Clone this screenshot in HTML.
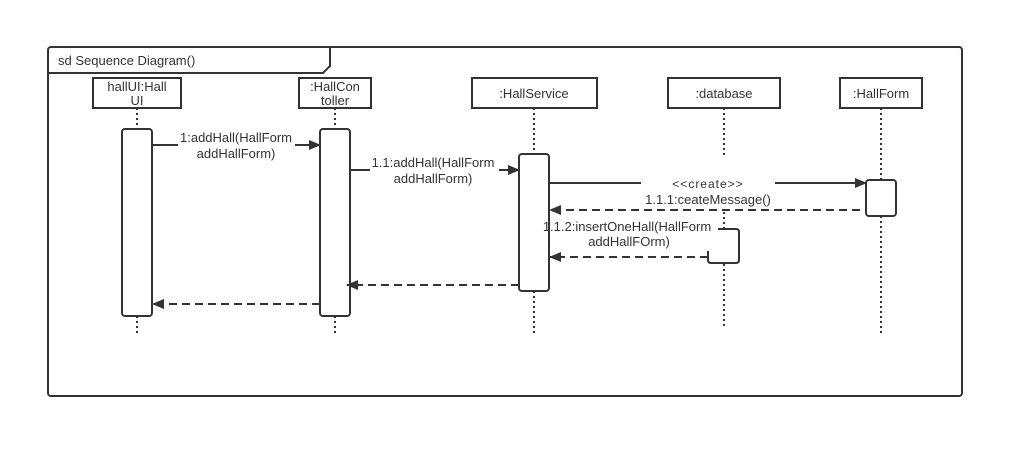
<!DOCTYPE html>
<html><head><meta charset="utf-8"><style>
html,body{margin:0;padding:0;background:#fff;}
svg{display:block;}
text{font-family:"Liberation Sans",sans-serif;font-size:13px;fill:#333;}
</style></head><body>
<svg width="1025" height="459" viewBox="0 0 1025 459" xmlns="http://www.w3.org/2000/svg">
<defs>
<marker id="a" markerWidth="12" markerHeight="10" refX="11" refY="5" orient="auto" markerUnits="userSpaceOnUse">
<path d="M0,0 L12,5 L0,10 Z" fill="#333"/></marker>
</defs>
<g stroke="#333" stroke-width="2" fill="none">
<rect x="48" y="47" width="914" height="349" rx="3" fill="#fff"/>
<path d="M48,73 L323,73 L330,66 L330,47"/>
</g>
<text x="58" y="65" style="font-size:13px">sd Sequence Diagram()</text>

<g stroke="#333" stroke-width="2" stroke-dasharray="2,3" fill="none">
<line x1="137" y1="108" x2="137" y2="129"/><line x1="137" y1="316" x2="137" y2="336"/>
<line x1="335" y1="108" x2="335" y2="129"/><line x1="335" y1="316" x2="335" y2="336"/>
<line x1="534" y1="108" x2="534" y2="154"/><line x1="534" y1="291" x2="534" y2="336"/>
<line x1="724" y1="108" x2="724" y2="158"/><line x1="724" y1="212" x2="724" y2="228"/><line x1="724" y1="264" x2="724" y2="328"/>
<line x1="881" y1="108" x2="881" y2="180"/><line x1="881" y1="216" x2="881" y2="336"/>
</g>

<g stroke="#333" stroke-width="2" fill="#fff">
<rect x="93" y="78" width="88" height="30"/>
<rect x="299" y="78" width="72" height="30"/>
<rect x="472" y="78" width="125" height="30"/>
<rect x="668" y="78" width="112" height="30"/>
<rect x="840" y="78" width="82" height="30"/>
<rect x="122" y="129" width="30" height="187" rx="3"/>
<rect x="320" y="129" width="30" height="187" rx="3"/>
<rect x="519" y="154" width="30" height="137" rx="3"/>
<rect x="866" y="180" width="30" height="36" rx="3"/>
<path d="M718,229 L736,229 Q739,229 739,232 L739,260 Q739,263 736,263 L711,263 Q708,263 708,260 L708,251" fill="none"/>
</g>

<text x="137" y="91" text-anchor="middle">hallUI:Hall</text>
<text x="137" y="105" text-anchor="middle">UI</text>
<text x="335" y="91" text-anchor="middle">:HallCon</text>
<text x="335" y="105" text-anchor="middle">toller</text>
<text x="534" y="98" text-anchor="middle">:HallService</text>
<text x="724" y="98" text-anchor="middle">:database</text>
<text x="881" y="98" text-anchor="middle">:HallForm</text>

<g stroke="#333" stroke-width="2" fill="none">
<line x1="152" y1="145" x2="178" y2="145"/><line x1="295" y1="145" x2="320" y2="145" marker-end="url(#a)"/>
<line x1="350" y1="170" x2="370" y2="170"/><line x1="499" y1="170" x2="519" y2="170" marker-end="url(#a)"/>
<line x1="549" y1="183" x2="641" y2="183"/><line x1="775" y1="183" x2="866" y2="183" marker-end="url(#a)"/>
<g stroke-dasharray="8,5">
<line x1="860" y1="210" x2="550" y2="210" marker-end="url(#a)"/>
<line x1="708" y1="257" x2="550" y2="257" marker-end="url(#a)"/>
<line x1="519" y1="285" x2="347" y2="285" marker-end="url(#a)"/>
<line x1="320" y1="304" x2="153" y2="304" marker-end="url(#a)"/>
</g>
</g>

<text x="236" y="142" text-anchor="middle">1:addHall(HallForm</text>
<text x="236" y="158" text-anchor="middle">addHallForm)</text>
<text x="433" y="167" text-anchor="middle">1.1:addHall(HallForm</text>
<text x="433" y="183" text-anchor="middle">addHallForm)</text>
<text x="708" y="188" text-anchor="middle" style="letter-spacing:1px;font-size:12px">&lt;&lt;create&gt;&gt;</text>
<text x="708" y="204" text-anchor="middle">1.1.1:ceateMessage()</text>
<text x="627" y="231" text-anchor="middle">1.1.2:insertOneHall(HallForm</text>
<text x="629" y="246" text-anchor="middle">addHallFOrm)</text>
</svg>
</body></html>
